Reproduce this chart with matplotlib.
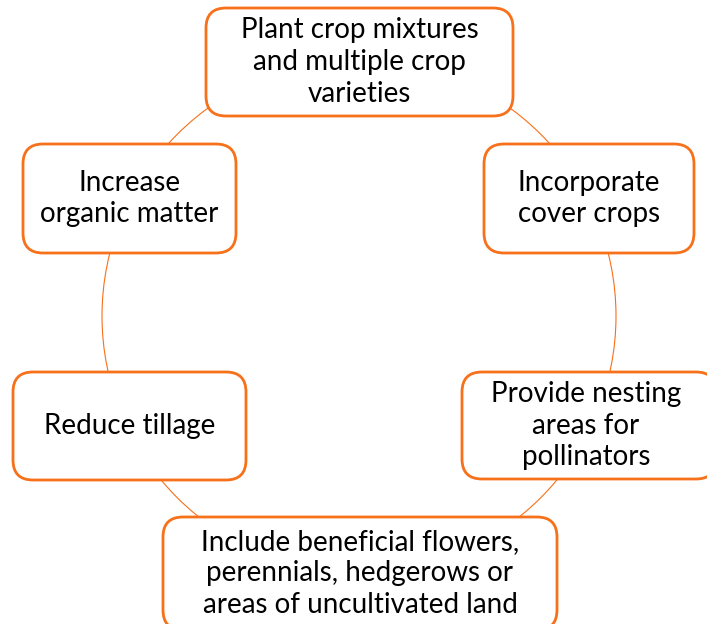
import matplotlib
matplotlib.use("Agg")
import matplotlib.pyplot as plt
from matplotlib.patches import FancyBboxPatch, Circle

labels = [
    "Plant crop mixtures\nand multiple crop\nvarieties",
    "Incorporate\ncover crops",
    "Provide nesting\nareas for\npollinators",
    "Include beneficial flowers,\nperennials, hedgerows or\nareas of uncultivated land",
    "Reduce tillage",
    "Increase\norganic matter",
]
# box extents (x0, x1, y0, y1) in pixel coordinates
boxes = [
    (206, 513, 8, 116),
    (484, 694, 144, 253),
    (462, 716, 372, 479),
    (163, 557, 517, 630),
    (13, 246, 372, 480),
    (23, 236, 144, 253),
]

ORANGE = "#F7701A"
W, H = 707, 624
fig = plt.figure(figsize=(W / 100, H / 100), dpi=100)
ax = fig.add_axes([0, 0, 1, 1])
ax.set_xlim(0, W)
ax.set_ylim(H, 0)
ax.axis("off")

ax.add_patch(Circle((359, 316), 257, fill=False, edgecolor=ORANGE, lw=0.8, zorder=1))

r = 20
for (x0, x1, y0, y1), lab in zip(boxes, labels):
    p = FancyBboxPatch((x0 + r, y0 + r), (x1 - x0) - 2 * r, (y1 - y0) - 2 * r,
                       boxstyle=f"round,pad={r},rounding_size={r}",
                       facecolor="white", edgecolor=ORANGE, lw=2.0, zorder=2)
    ax.add_patch(p)
    cx = (x0 + min(x1, 710)) / 2
    cy = (y0 + y1) / 2
    ax.text(cx, cy, lab, ha="center", va="center", fontsize=20, family="Lato",
            linespacing=1.27, color="black", zorder=3)

fig.savefig("out.png", dpi=100)
